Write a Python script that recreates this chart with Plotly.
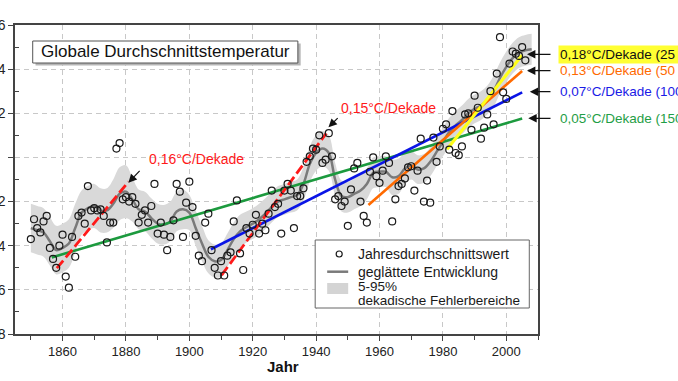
import plotly.graph_objects as go

# ---------------- data ----------------
years = list(range(1850, 2007))
temps = [
    -0.37, -0.28, -0.32, -0.34, -0.29, -0.265, -0.41, -0.46, -0.50, -0.40,   # 1850-1859
    -0.35, -0.54, -0.59, -0.36, -0.45, -0.265, -0.25, -0.30, -0.13, -0.24,   # 1860-1869
    -0.23, -0.24, -0.235, -0.265, -0.385, -0.295, -0.295, 0.04, 0.065, -0.19, # 1870-1879
    -0.18, -0.20, -0.18, -0.21, -0.295, -0.26, -0.24, -0.295, -0.22, -0.12,  # 1880-1889
    -0.345, -0.295, -0.35, -0.42, -0.36, -0.285, -0.12, -0.155, -0.36, -0.205, # 1890-1899
    -0.11, -0.225, -0.355, -0.445, -0.47, -0.295, -0.255, -0.42, -0.50, -0.535, # 1900-1909
    -0.47, -0.535, -0.445, -0.43, -0.29, -0.195, -0.435, -0.51, -0.32, -0.345, # 1910-1919
    -0.305, -0.26, -0.345, -0.30, -0.33, -0.255, -0.15, -0.225, -0.21, -0.345, # 1920-1929
    -0.15, -0.12, -0.15, -0.32, -0.175, -0.175, -0.14, -0.02, 0.005, 0.04,    # 1930-1939
    0.035, 0.10, -0.025, -0.01, 0.11, 0.005, -0.19, -0.175, -0.22, -0.20,     # 1940-1949
    -0.31, -0.145, -0.05, -0.025, -0.20, -0.265, -0.295, -0.065, 0.00, -0.085, # 1950-1959
    -0.115, -0.06, 0.005, -0.025, -0.29, -0.19, -0.13, -0.12, -0.095, -0.045, # 1960-1969
    -0.04, -0.15, -0.06, 0.085, -0.20, -0.105, -0.205, 0.09, -0.02, 0.05,     # 1970-1979
    0.13, 0.15, 0.035, 0.21, 0.02, 0.01, 0.05, 0.195, 0.20, 0.125,            # 1980-1989
    0.28, 0.225, 0.085, 0.135, 0.195, 0.30, 0.15, 0.38, 0.545, 0.295,         # 1990-1999
    0.265, 0.425, 0.48, 0.47, 0.46, 0.50, 0.44,                               # 2000-2006
]

smooth_years = [1850, 1852, 1854, 1856, 1858, 1860, 1862, 1864, 1866, 1868,
                1870, 1872, 1874, 1876, 1878, 1880, 1882, 1884, 1886, 1888,
                1890, 1892, 1894, 1896, 1898, 1900, 1902, 1904, 1906, 1908,
                1910, 1912, 1914, 1916, 1918, 1920, 1922, 1924, 1926, 1928,
                1930, 1932, 1934, 1936, 1938, 1940, 1942, 1944, 1946, 1948,
                1950, 1952, 1954, 1956, 1958, 1960, 1962, 1964, 1966, 1968,
                1970, 1972, 1974, 1976, 1978, 1980, 1982, 1984, 1986, 1988,
                1990, 1992, 1994, 1996, 1998, 2000, 2002, 2004, 2006, 2008]
smooth_vals = [-0.32, -0.33, -0.34, -0.38, -0.42, -0.41, -0.39, -0.32, -0.25, -0.23,
               -0.22, -0.24, -0.24, -0.21, -0.165, -0.155, -0.19, -0.235, -0.245, -0.275,
               -0.30, -0.305, -0.29, -0.245, -0.235, -0.25, -0.32, -0.39, -0.45, -0.47,
               -0.465, -0.42, -0.37, -0.335, -0.315, -0.30, -0.28, -0.255, -0.225, -0.20,
               -0.19, -0.18, -0.17, -0.12, -0.03, 0.02, 0.04, 0.02, -0.10, -0.175,
               -0.18, -0.165, -0.15, -0.12, -0.07, -0.065, -0.065, -0.09, -0.085, -0.05,
               -0.035, -0.055, -0.05, -0.02, 0.025, 0.07, 0.115, 0.145, 0.17, 0.20,
               0.22, 0.235, 0.26, 0.30, 0.36, 0.41, 0.45, 0.475, 0.485, 0.49]
band_half = [0.11, 0.11, 0.11, 0.11, 0.11, 0.11, 0.11, 0.11, 0.10, 0.10,
             0.10, 0.10, 0.10, 0.11, 0.12, 0.12, 0.10, 0.09, 0.09, 0.09,
             0.09, 0.09, 0.09, 0.09, 0.09, 0.08, 0.08, 0.08, 0.075, 0.075,
             0.075, 0.075, 0.075, 0.075, 0.07, 0.07, 0.07, 0.07, 0.07, 0.07,
             0.07, 0.07, 0.07, 0.075, 0.08, 0.08, 0.08, 0.08, 0.075, 0.07,
             0.07, 0.07, 0.07, 0.07, 0.07, 0.07, 0.07, 0.08, 0.08, 0.07,
             0.065, 0.065, 0.065, 0.065, 0.065, 0.065, 0.065, 0.065, 0.065, 0.065,
             0.065, 0.065, 0.065, 0.07, 0.07, 0.07, 0.07, 0.07, 0.07, 0.07]

# linear trends: (start year, end year, start value, end value)
trend_green = (1856.6, 2005.0, -0.453, 0.176)   # 150 years
trend_blue = (1906.8, 2005.0, -0.416, 0.295)    # 100 years
trend_orange = (1956.5, 2005.0, -0.216, 0.392)  # 50 years
trend_yellow = (1981.3, 2005.0, 0.037, 0.464)   # 25 years
trend_red1 = (1858.2, 1880.8, -0.502, -0.110)
trend_red2 = (1910.2, 1943.2, -0.533, 0.109)

x_ticks = [1860, 1880, 1900, 1920, 1940, 1960, 1980, 2000]
x_minor = [1850, 1870, 1890, 1910, 1930, 1950, 1970, 1990, 2010]
y_ticks = [-0.8, -0.6, -0.4, -0.2, 0.0, 0.2, 0.4, 0.6]
y_ticktext = ["-0,8", "-0,6", "-0,4", "-0,2", "", "0,2", "0,4", "0,6"]
y_minor = [-0.7, -0.5, -0.3, -0.1, 0.1, 0.3, 0.5]

trend_labels = ["0,18°C/Dekade (25 Jahre)", "0,13°C/Dekade (50 Jahre)",
                "0,07°C/Dekade (100 Jahre)", "0,05°C/Dekade (150 Jahre)"]
red_labels = ["0,16°C/Dekade", "0,15°C/Dekade"]
legend_labels = ["Jahresdurchschnittswert", "geglättete Entwicklung",
                 "5-95%", "dekadische Fehlerbereiche"]
title_text = "Globale Durchschnittstemperatur"
x_title = "Jahr"

# ---------------- layout helpers (pixel -> paper) ----------------
W, H = 678, 381
L, R, T, B = 15, 537.7, 25, 334


def px(x):
    return (x - L) / (R - L)


def py(y):
    return (B - y) / (B - T)


FONT = "Liberation Sans, Arial, sans-serif"
C_GREEN, C_BLUE, C_ORANGE, C_YELLOW, C_RED = "#1c9a3e", "#0a14e6", "#ff6a00", "#ffff1a", "#ff1a1a"

fig = go.Figure()

lower = [v - h for v, h in zip(smooth_vals, band_half)]
upper = [v + h for v, h in zip(smooth_vals, band_half)]
fig.add_trace(go.Scatter(x=smooth_years, y=lower, mode="lines", line=dict(width=0, shape="spline"),
                         hoverinfo="skip", showlegend=False))
fig.add_trace(go.Scatter(x=smooth_years, y=upper, mode="lines", line=dict(width=0, shape="spline"),
                         fill="tonexty", fillcolor="#d9d9d9", hoverinfo="skip", showlegend=False))
fig.add_trace(go.Scatter(x=smooth_years, y=smooth_vals, mode="lines",
                         line=dict(color="#7a7a7a", width=2.5, shape="spline", smoothing=1.0),
                         showlegend=False))

for tr, col, w, dash in [(trend_green, C_GREEN, 2.6, "solid"), (trend_blue, C_BLUE, 2.6, "solid"),
                         (trend_orange, C_ORANGE, 2.6, "solid"), (trend_yellow, C_YELLOW, 3.2, "solid"),
                         (trend_red1, C_RED, 2.8, "10px,4px"), (trend_red2, C_RED, 2.8, "10px,4px")]:
    fig.add_trace(go.Scatter(x=[tr[0], tr[1]], y=[tr[2], tr[3]], mode="lines",
                             line=dict(color=col, width=w, dash=dash), showlegend=False))

fig.add_trace(go.Scatter(x=years, y=temps, mode="markers",
                         marker=dict(symbol="circle-open", size=7, color="#1a1a1a", line=dict(width=1.2)),
                         showlegend=False))

shapes = []
# title box with shadow
shapes.append(dict(type="rect", xref="paper", yref="paper", x0=px(35.5), x1=px(300.5), y0=py(65.5), y1=py(43.5),
                   fillcolor="#b5b5b5", line=dict(width=0), layer="above"))
shapes.append(dict(type="rect", xref="paper", yref="paper", x0=px(32.7), x1=px(297.7), y0=py(63), y1=py(41),
                   fillcolor="white", line=dict(color="#555555", width=1), layer="above"))
# legend box
shapes.append(dict(type="rect", xref="paper", yref="paper", x0=px(315), x1=px(529), y0=py(308), y1=py(240),
                   fillcolor="white", line=dict(color="#666666", width=1), layer="above"))
shapes.append(dict(type="circle", xref="paper", yref="paper", x0=px(336), x1=px(342), y0=py(257), y1=py(251),
                   fillcolor="rgba(0,0,0,0)", line=dict(color="#1a1a1a", width=1.2), layer="above"))
shapes.append(dict(type="line", xref="paper", yref="paper", x0=px(327), x1=px(348), y0=py(271.7), y1=py(271.7),
                   line=dict(color="#7a7a7a", width=2.5), layer="above"))
shapes.append(dict(type="rect", xref="paper", yref="paper", x0=px(327), x1=px(348), y0=py(294), y1=py(283),
                   fillcolor="#d4d4d4", line=dict(width=0), layer="above"))

ann = []
ann.append(dict(xref="paper", yref="paper", x=px(165.2), y=py(52), text=title_text, showarrow=False,
                xanchor="center", yanchor="middle", font=dict(family=FONT, size=17, color="#111111")))
ann.append(dict(xref="paper", yref="paper", x=px(283), y=py(366), text="<b>" + x_title + "</b>", showarrow=False,
                xanchor="center", yanchor="middle", font=dict(family=FONT, size=15, color="#111111")))
leg_y = [254, 271.7, 286.0, 300.0]
leg_size = [14, 14, 13.5, 13.5]
for t, yy, fs in zip(legend_labels, leg_y, leg_size):
    ann.append(dict(xref="paper", yref="paper", x=px(356.7), y=py(yy), text=t, showarrow=False,
                    xanchor="left", yanchor="middle", font=dict(family=FONT, size=fs, color="#1a1a1a"),
                    borderpad=0))

# right trend labels with arrows
right_y = [54.3, 70.7, 91.7, 118.3]
right_col = ["#111111", C_ORANGE, "#1a1ae6", "#1f9e46"]
right_tip = [526.7, 526.7, 529.5, 528.0]
for i, (t, yy, col, tip) in enumerate(zip(trend_labels, right_y, right_col, right_tip)):
    a = dict(xref="paper", yref="paper", x=px(557.3), y=py(yy), text=t, showarrow=False,
             xanchor="left", yanchor="middle", font=dict(family=FONT, size=13.5, color=col), borderpad=1)
    if i == 0:
        a["bgcolor"] = "#ffff33"
    ann.append(a)
    ann.append(dict(xref="paper", yref="paper", x=px(tip), y=py(yy), text="", showarrow=True,
                    ax=551.7 - tip, ay=0, arrowhead=2, arrowsize=1.4, arrowwidth=1.2, arrowcolor="#111111"))

# red labels with arrows
ann.append(dict(xref="paper", yref="paper", x=px(147.3), y=py(159.3), text=red_labels[0], showarrow=False,
                xanchor="left", yanchor="middle", font=dict(family=FONT, size=14, color=C_RED)))
ann.append(dict(xref="paper", yref="paper", x=px(128.3), y=py(182.7), text="", showarrow=True,
                ax=141 - 128.3, ay=169.3 - 182.7, arrowhead=2, arrowsize=1.4, arrowwidth=1.2, arrowcolor="#111111"))
ann.append(dict(xref="paper", yref="paper", x=px(339), y=py(108.5), text=red_labels[1], showarrow=False,
                xanchor="left", yanchor="middle", font=dict(family=FONT, size=14, color=C_RED)))
ann.append(dict(xref="paper", yref="paper", x=px(328.3), y=py(127.3), text="", showarrow=True,
                ax=339 - 328.3, ay=116.7 - 127.3, arrowhead=2, arrowsize=1.4, arrowwidth=1.2, arrowcolor="#111111"))

fig.update_layout(
    width=W, height=H, template="none",
    margin=dict(l=L, r=W - R, t=T, b=H - B, pad=0),
    paper_bgcolor="white", plot_bgcolor="white",
    font=dict(family=FONT, size=13, color="#222222"),
    showlegend=False, shapes=shapes, annotations=ann,
)
fig.update_xaxes(range=[1845, 2010], tickmode="array", tickvals=x_ticks, ticktext=[str(v) for v in x_ticks],
                 ticks="outside", ticklen=5, tickwidth=1, tickcolor="#444444",
                 showline=True, linecolor="#444444", linewidth=1.5, mirror=True,
                 showgrid=True, gridcolor="#c8c8c8", gridwidth=1, griddash="5px,4px", zeroline=False,
                 minor=dict(tickvals=x_minor, ticks="outside", ticklen=4, tickcolor="#444444", showgrid=False),
                 tickfont=dict(family=FONT, size=13, color="#222222"), automargin=False)
fig.update_yaxes(range=[-0.8, 0.6], tickmode="array", tickvals=y_ticks, ticktext=y_ticktext,
                 ticks="outside", ticklen=5, tickwidth=1, tickcolor="#444444",
                 showline=True, linecolor="#444444", linewidth=1.5, mirror=True,
                 showgrid=True, gridcolor="#c8c8c8", gridwidth=1, griddash="5px,4px", zeroline=False,
                 minor=dict(tickvals=y_minor, ticks="inside", ticklen=4, tickcolor="#444444", showgrid=False),
                 tickfont=dict(family=FONT, size=14, color="#222222"), automargin=False)

fig.write_html("out.html", config={"displayModeBar": False},
               post_script="document.body.style.margin='0px';document.body.style.padding='0px';"
                           "document.body.style.overflow='hidden';")
